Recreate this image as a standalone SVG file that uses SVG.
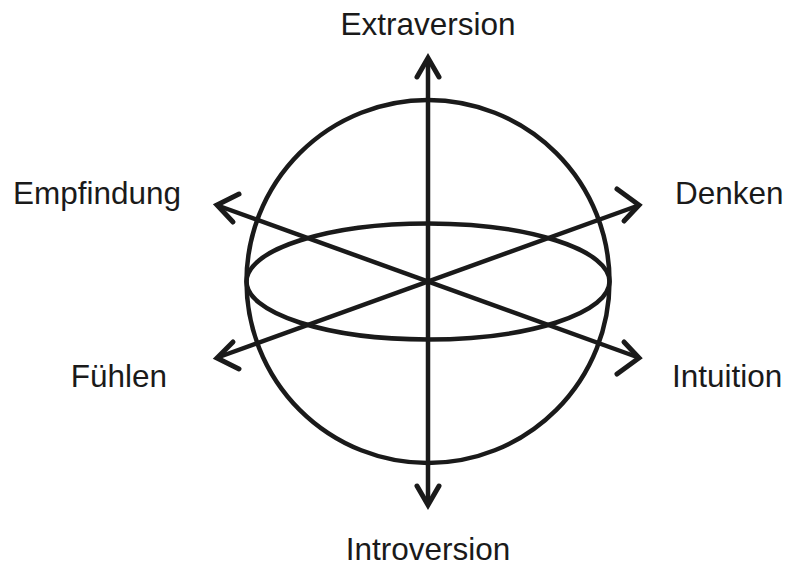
<svg xmlns="http://www.w3.org/2000/svg" width="787" height="568" viewBox="0 0 787 568">
<style>
.l{fill:none;stroke:#1a1a1a;stroke-width:4.5}
.h{fill:none;stroke:#1a1a1a;stroke-width:5;stroke-linecap:round;stroke-linejoin:miter}
text{font-family:"Liberation Sans",Arial,sans-serif;font-size:31.5px;fill:#1a1a1a}
</style>
<rect width="787" height="568" fill="#fff"/>
<g id="sphere">
<circle class="l" cx="428" cy="281.5" r="181.5"/>
<ellipse class="l" cx="428" cy="281.5" rx="181.5" ry="58"/>
</g>
<g id="connectors">
<line class="l" x1="428" y1="60" x2="428" y2="504"/>
<polyline class="h" points="417,77 428,58 439,77"/>
<polyline class="h" points="417,486 428,505 439,486"/>
<line class="l" x1="219" y1="206" x2="637" y2="357"/>
<line class="l" x1="219" y1="357" x2="637" y2="206"/>
<polyline class="h" points="239,194 217,205 233,222"/>
<polyline class="h" points="617,189 639,205 624,221"/>
<polyline class="h" points="233,342 217,358 239,369"/>
<polyline class="h" points="624,342 639,358 617,374"/>
</g>
<g id="extraversion"><text x="428" y="35" text-anchor="middle">Extraversion</text></g>
<g id="introversion"><text x="428" y="560" text-anchor="middle">Introversion</text></g>
<g id="empfindung"><text x="13" y="204">Empfindung</text></g>
<g id="denken"><text x="675" y="204">Denken</text></g>
<g id="fuehlen"><text x="167" y="387" text-anchor="end">Fühlen</text></g>
<g id="intuition"><text x="672" y="387">Intuition</text></g>
</svg>
